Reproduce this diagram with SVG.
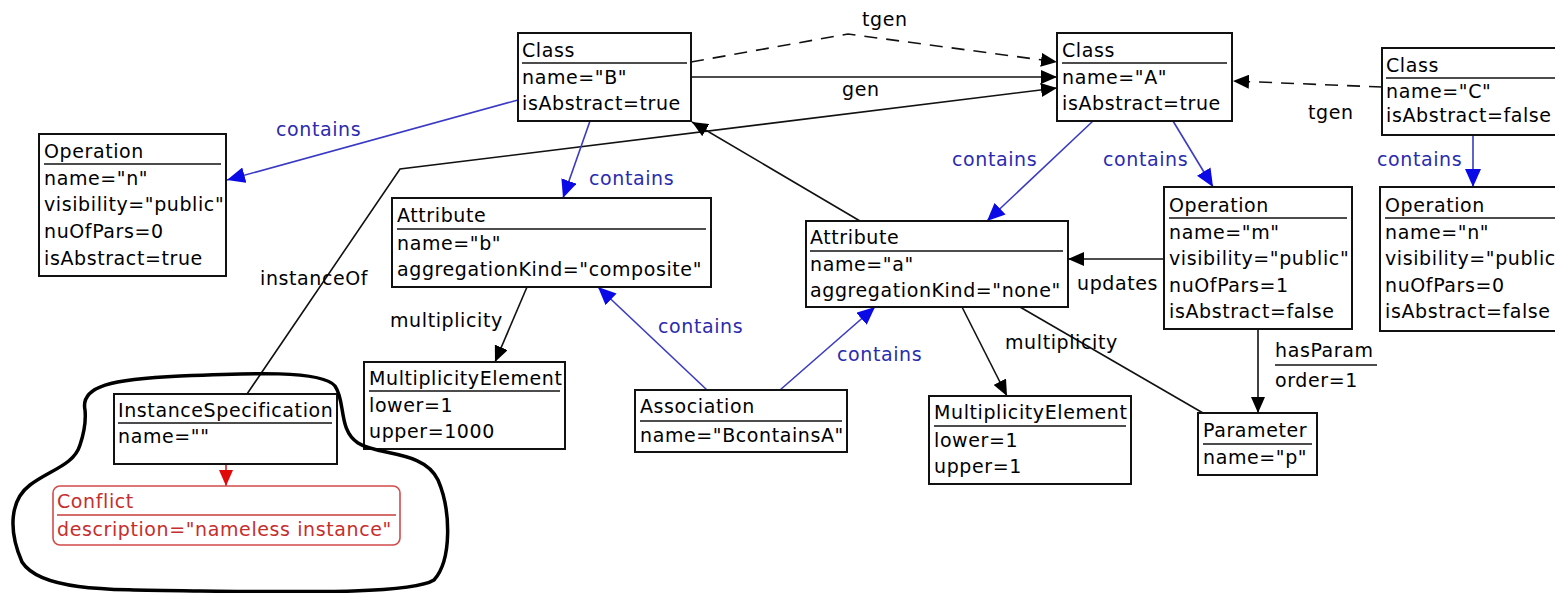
<svg xmlns="http://www.w3.org/2000/svg" width="1555" height="593" viewBox="0 0 1555 593">
  <style>
    text { font-family: "DejaVu Sans", "Liberation Sans", sans-serif; font-size: 19px; letter-spacing: 0.6px; fill: #000; }
    .box { fill: #fff; stroke: #111; stroke-width: 2; }
    .sep { stroke: #111; stroke-width: 1.7; }
    .conn { fill: none; stroke: #111; stroke-width: 1.6; }
    .dash { stroke-dasharray: 13 9; }
    .blue { fill: none; stroke: #3a3ac4; stroke-width: 1.6; }
    .blbl { fill: #2b2bae; }
    .red-box { fill: #fff; stroke: #d24a4a; stroke-width: 1.6; }
    .red-sep { stroke: #c83a3a; stroke-width: 1.4; }
    .red-txt { fill: #c62e2e; }
    .red-line { fill: none; stroke: #d42020; stroke-width: 1.6; }
    .loop { fill: none; stroke: #000; stroke-width: 3.5; stroke-linejoin: round; }
  </style>
  <defs>
    <marker id="ah" viewBox="0 0 16 14" refX="16" refY="7" markerWidth="16" markerHeight="14" orient="auto" markerUnits="userSpaceOnUse">
      <path d="M0,0 L16,7 L0,14 Z" fill="#000"/>
    </marker>
    <marker id="ah-blue" viewBox="0 0 18 16" refX="18" refY="8" markerWidth="18" markerHeight="16" orient="auto" markerUnits="userSpaceOnUse">
      <path d="M0,0 L18,8 L0,16 Z" fill="#0a0ae6"/>
    </marker>
    <marker id="ah-red" viewBox="0 0 16 14" refX="16" refY="7" markerWidth="16" markerHeight="14" orient="auto" markerUnits="userSpaceOnUse">
      <path d="M0,0 L16,7 L0,14 Z" fill="#e00a0a"/>
    </marker>
  </defs>

  <!-- connectors -->
  <g id="connectors">
    <!-- generalisations into class A -->
    <polyline class="conn dash" points="691,62 848,34 1057,62" marker-end="url(#ah)"/>
    <line class="conn" x1="691" y1="77" x2="1057" y2="77" marker-end="url(#ah)"/>
    <polyline class="conn" points="247,394 400,169 1057,88" marker-end="url(#ah)"/>
    <line class="conn dash" x1="1382" y1="87" x2="1233" y2="81" marker-end="url(#ah)"/>
    <!-- attribute a typed by class B -->
    <line class="conn" x1="860" y1="221" x2="692" y2="122" marker-end="url(#ah)"/>
    <!-- containment -->
    <line class="blue" x1="518" y1="100" x2="227" y2="180" marker-end="url(#ah-blue)"/>
    <line class="blue" x1="590" y1="121" x2="563" y2="198" marker-end="url(#ah-blue)"/>
    <line class="blue" x1="1093" y1="121" x2="987" y2="221" marker-end="url(#ah-blue)"/>
    <line class="blue" x1="1173" y1="121" x2="1213" y2="187" marker-end="url(#ah-blue)"/>
    <line class="blue" x1="1473" y1="135" x2="1473" y2="187" marker-end="url(#ah-blue)"/>
    <line class="blue" x1="707" y1="390" x2="598" y2="287" marker-end="url(#ah-blue)"/>
    <line class="blue" x1="780" y1="390" x2="875" y2="307" marker-end="url(#ah-blue)"/>
    <!-- multiplicity -->
    <line class="conn" x1="527" y1="287" x2="495" y2="362" marker-end="url(#ah)"/>
    <line class="conn" x1="962" y1="307" x2="1007" y2="396" marker-end="url(#ah)"/>
    <line class="conn" x1="1020" y1="307" x2="1203" y2="413"/>
    <!-- updates / hasParam -->
    <line class="conn" x1="1164" y1="259" x2="1068" y2="259" marker-end="url(#ah)"/>
    <line class="conn" x1="1258" y1="329" x2="1258" y2="413" marker-end="url(#ah)"/>
    <!-- conflict -->
    <line class="red-line" x1="226" y1="464" x2="226" y2="486" marker-end="url(#ah-red)"/>

    <!-- connector labels -->
    <text x="862" y="26">tgen</text>
    <text x="842" y="96">gen</text>
    <text x="1308" y="119">tgen</text>
    <text x="260" y="285">instanceOf</text>
    <text x="390" y="327">multiplicity</text>
    <text x="1005" y="349">multiplicity</text>
    <text x="1077" y="290">updates</text>
    <text x="1275" y="357">hasParam</text>
    <line class="sep" x1="1275" y1="365" x2="1377" y2="365"/>
    <text x="1275" y="387">order=1</text>
    <text class="blbl" x="276" y="136">contains</text>
    <text class="blbl" x="589" y="185">contains</text>
    <text class="blbl" x="952" y="166">contains</text>
    <text class="blbl" x="1103" y="166">contains</text>
    <text class="blbl" x="1377" y="166">contains</text>
    <text class="blbl" x="658" y="333">contains</text>
    <text class="blbl" x="837" y="361">contains</text>
  </g>

  <!-- nodes -->
  <g id="operation-n-left">
    <rect class="box" x="39" y="134" width="187" height="142"/>
    <text x="44" y="158">Operation</text>
    <line class="sep" x1="44" y1="164" x2="221" y2="164"/>
    <text x="44" y="185">name="n"</text>
    <text x="44" y="211">visibility="public"</text>
    <text x="44" y="238">nuOfPars=0</text>
    <text x="44" y="265">isAbstract=true</text>
  </g>

  <g id="class-b">
    <rect class="box" x="518" y="33" width="173" height="88"/>
    <text x="522" y="57">Class</text>
    <line class="sep" x1="522" y1="63" x2="687" y2="63"/>
    <text x="522" y="84">name="B"</text>
    <text x="522" y="110">isAbstract=true</text>
  </g>

  <g id="class-a">
    <rect class="box" x="1057" y="33" width="175" height="88"/>
    <text x="1062" y="57">Class</text>
    <line class="sep" x1="1062" y1="63" x2="1227" y2="63"/>
    <text x="1062" y="84">name="A"</text>
    <text x="1062" y="110">isAbstract=true</text>
  </g>

  <g id="class-c">
    <rect class="box" x="1382" y="48" width="200" height="87"/>
    <text x="1386" y="72">Class</text>
    <line class="sep" x1="1386" y1="78" x2="1578" y2="78"/>
    <text x="1386" y="98">name="C"</text>
    <text x="1386" y="122">isAbstract=false</text>
  </g>

  <g id="attribute-b">
    <rect class="box" x="392" y="198" width="319" height="89"/>
    <text x="397" y="222">Attribute</text>
    <line class="sep" x1="397" y1="229" x2="706" y2="229"/>
    <text x="397" y="250">name="b"</text>
    <text x="397" y="276">aggregationKind="composite"</text>
  </g>

  <g id="attribute-a">
    <rect class="box" x="806" y="221" width="262" height="86"/>
    <text x="810" y="244">Attribute</text>
    <line class="sep" x1="810" y1="251" x2="1063" y2="251"/>
    <text x="810" y="271">name="a"</text>
    <text x="810" y="297">aggregationKind="none"</text>
  </g>

  <g id="operation-m">
    <rect class="box" x="1164" y="187" width="188" height="142"/>
    <text x="1169" y="212">Operation</text>
    <line class="sep" x1="1169" y1="218" x2="1347" y2="218"/>
    <text x="1169" y="239">name="m"</text>
    <text x="1169" y="265">visibility="public"</text>
    <text x="1169" y="292">nuOfPars=1</text>
    <text x="1169" y="318">isAbstract=false</text>
  </g>

  <g id="operation-n-right">
    <rect class="box" x="1380" y="187" width="200" height="144"/>
    <text x="1385" y="212">Operation</text>
    <line class="sep" x1="1385" y1="218" x2="1578" y2="218"/>
    <text x="1385" y="239">name="n"</text>
    <text x="1385" y="265">visibility="public"</text>
    <text x="1385" y="292">nuOfPars=0</text>
    <text x="1385" y="318">isAbstract=false</text>
  </g>

  <g id="multiplicity-1000">
    <rect class="box" x="364" y="362" width="201" height="87"/>
    <text x="369" y="385">MultiplicityElement</text>
    <line class="sep" x1="369" y1="391" x2="560" y2="391"/>
    <text x="369" y="412">lower=1</text>
    <text x="369" y="438">upper=1000</text>
  </g>

  <g id="multiplicity-1">
    <rect class="box" x="929" y="396" width="202" height="88"/>
    <text x="934" y="419">MultiplicityElement</text>
    <line class="sep" x1="934" y1="426" x2="1126" y2="426"/>
    <text x="934" y="447">lower=1</text>
    <text x="934" y="473">upper=1</text>
  </g>

  <g id="association">
    <rect class="box" x="635" y="390" width="212" height="62"/>
    <text x="640" y="413">Association</text>
    <line class="sep" x1="640" y1="421" x2="842" y2="421"/>
    <text x="640" y="442">name="BcontainsA"</text>
  </g>

  <g id="parameter">
    <rect class="box" x="1198" y="413" width="119" height="62"/>
    <text x="1203" y="437">Parameter</text>
    <line class="sep" x1="1203" y1="444" x2="1312" y2="444"/>
    <text x="1203" y="464">name="p"</text>
  </g>

  <g id="instance-specification">
    <rect class="box" x="114" y="394" width="223" height="70"/>
    <text x="118" y="417">InstanceSpecification</text>
    <line class="sep" x1="118" y1="423" x2="332" y2="423"/>
    <text x="118" y="443">name=""</text>
  </g>

  <g id="conflict">
    <rect class="red-box" x="53" y="486" width="347" height="59" rx="7" ry="7"/>
    <text class="red-txt" x="57" y="508">Conflict</text>
    <line class="red-sep" x1="57" y1="515" x2="396" y2="515"/>
    <text class="red-txt" x="57" y="536">description="nameless instance"</text>
  </g>

  <!-- hand-drawn outline around the instance and its conflict -->
  <path id="highlight" class="loop" d="M85,410 C80,386 112,379 180,376 C250,373 322,370 335,386 C346,402 338,430 358,443 C378,456 424,450 438,480 C451,510 452,560 434,580 C412,594 300,592 200,591 C100,590 40,590 22,562 C8,530 10,500 30,485 C50,470 74,465 80,445 C85,430 86,420 85,410 Z"/>
</svg>
